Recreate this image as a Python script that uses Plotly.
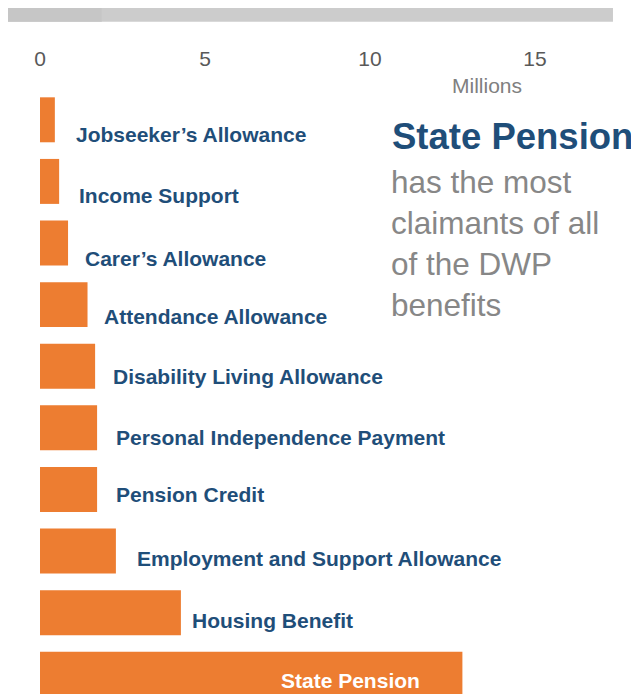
import plotly.graph_objects as go

# ---- data ----
benefits = [
    "Jobseeker’s Allowance",
    "Income Support",
    "Carer’s Allowance",
    "Attendance Allowance",
    "Disability Living Allowance",
    "Personal Independence Payment",
    "Pension Credit",
    "Employment and Support Allowance",
    "Housing Benefit",
    "State Pension",
]
claimants_millions = [0.45, 0.58, 0.85, 1.44, 1.67, 1.73, 1.73, 2.30, 4.27, 12.8]
tick_values = [0, 5, 10, 15]
tick_labels = ["0", "5", "10", "15"]

# label nudges in pixels (dx from bar end, dy downward from bar centre)
label_dx = [19, 18, 15, 14, 16, 17, 17, 19, 9, -40]
label_dy = [14.5, 14, 15.5, 12, 10.5, 10, 5.5, 7, 7.5, 6.5]

ORANGE = "#ED7D31"
BLUE = "#1F4E79"
FONT = "Liberation Sans, Arial, sans-serif"

fig = go.Figure(
    go.Bar(
        x=claimants_millions,
        y=benefits,
        orientation="h",
        marker=dict(color=ORANGE, line=dict(width=0)),
        hoverinfo="skip",
    )
)

annotations = []
for i, (name, val) in enumerate(zip(benefits, claimants_millions)):
    inside = label_dx[i] < 0
    annotations.append(
        dict(
            x=val, y=name, xref="x", yref="y",
            text="<b>%s</b>" % name,
            showarrow=False,
            xanchor="right" if inside else "left",
            yanchor="middle",
            xshift=label_dx[i],
            yshift=-label_dy[i],
            font=dict(family=FONT, size=21, color="white" if inside else BLUE),
        )
    )

# headline text
annotations.append(dict(
    x=0.5886, y=0.921, xref="paper", yref="paper",
    text="<b>State Pension</b>", showarrow=False,
    xanchor="left", yanchor="middle",
    font=dict(family=FONT, size=36.5, color=BLUE),
))
annotations.append(dict(
    x=0.587, y=0.745, xref="paper", yref="paper",
    text="has the most<br>claimants of all<br>of the DWP<br>benefits",
    showarrow=False, align="left",
    xanchor="left", yanchor="middle",
    font=dict(family=FONT, size=31.5, color="#878787"),
))
# axis unit
annotations.append(dict(
    x=13.55, y=1, xref="x", yref="paper",
    text="Millions", showarrow=False,
    xanchor="center", yanchor="middle", yshift=4,
    font=dict(family=FONT, size=21, color="#808080"),
))

shapes = [
    dict(type="rect", xref="paper", yref="paper",
         x0=-0.0539, x1=0.9646, y0=1.111, y1=1.139,
         fillcolor="#CCCCCC", line=dict(width=0), layer="above"),
    dict(type="rect", xref="paper", yref="paper",
         x0=-0.0539, x1=0.104, y0=1.111, y1=1.139,
         fillcolor="#C6C6C6", line=dict(width=0), layer="above"),
]

fig.update_layout(
    width=631, height=686,
    margin=dict(l=32, r=5, t=81, b=0),
    paper_bgcolor="white", plot_bgcolor="white",
    bargap=0.27,
    showlegend=False,
    annotations=annotations,
    shapes=shapes,
    xaxis=dict(
        side="top", range=[0, 18],
        tickvals=tick_values, ticktext=tick_labels,
        showgrid=False, zeroline=False, showline=False,
        ticks="outside", ticklen=14, tickcolor="rgba(0,0,0,0)",
        tickfont=dict(family=FONT, size=21, color="#595959"),
    ),
    yaxis=dict(
        range=[9.32, -0.5],
        showticklabels=False, showgrid=False, zeroline=False, showline=False,
        ticks="",
    ),
)

fig.write_html("out.html")
